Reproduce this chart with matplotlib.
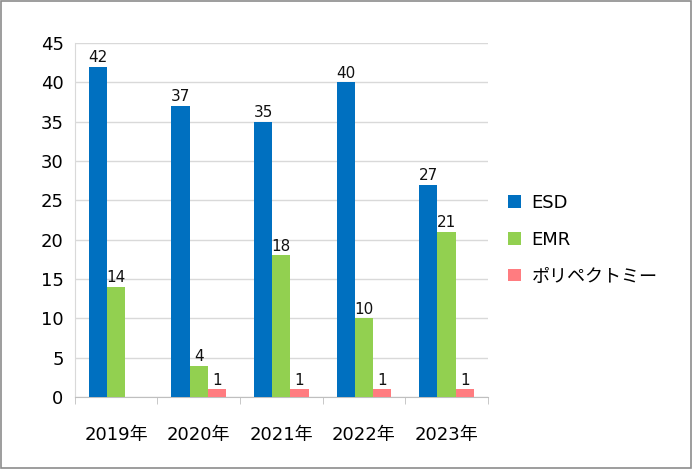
import numpy as np
import matplotlib.pyplot as plt
from matplotlib.patches import Rectangle

plt.rcParams['font.family'] = ['DejaVu Sans', 'Noto Sans CJK JP']

years = ['2019年', '2020年', '2021年', '2022年', '2023年']
esd = [42, 37, 35, 40, 27]
emr = [14, 4, 18, 10, 21]
poly = [0, 1, 1, 1, 1]
names = ['ESD', 'EMR', 'ポリペクトミー']
colors = ['#0070C0', '#92D050', '#FF7C80']

fig = plt.figure(figsize=(6.92, 4.69), dpi=100)
fig.patches.append(Rectangle((0.001, 0.002), 0.997, 0.995, transform=fig.transFigure,
                             fill=False, edgecolor='#8c8c8c', linewidth=1.2))
ax = fig.add_axes([0.108, 0.1535, 0.597, 0.7545])

x = np.arange(len(years))
w = 0.22
for i, (vals, c, n) in enumerate(zip([esd, emr, poly], colors, names)):
    bars = ax.bar(x + (i - 1) * w, vals, w, color=c, label=n, zorder=3)
    for b, v in zip(bars, vals):
        if v > 0:
            ax.text(b.get_x() + b.get_width() / 2, v + 0.2, str(v), ha='center', va='bottom',
                    fontsize=11, color='#111111')

ax.set_xlim(-0.5, 4.5)
ax.set_ylim(0, 45)
ax.set_yticks(range(0, 46, 5))
ax.set_xticks(x)
ax.set_xticklabels(years, fontsize=13)
ax.set_xticks(np.arange(-0.5, 5, 1), minor=True)
ax.tick_params(axis='x', which='major', length=0, pad=21)
ax.tick_params(axis='x', which='minor', length=5, color='#bfbfbf')
ax.tick_params(axis='y', length=0, labelsize=13, pad=8)
ax.grid(axis='y', color='#d9d9d9', linewidth=1, zorder=0)
for s in ['top', 'right']:
    ax.spines[s].set_visible(False)
ax.spines['left'].set_color('#d9d9d9')
ax.spines['bottom'].set_color('#bfbfbf')

ax.legend(loc='center left', bbox_to_anchor=(1.01, 0.445), frameon=False, fontsize=13,
          handlelength=0.7, handleheight=0.7, handletextpad=0.6, labelspacing=1.05)

fig.savefig('out.png', dpi=100)
